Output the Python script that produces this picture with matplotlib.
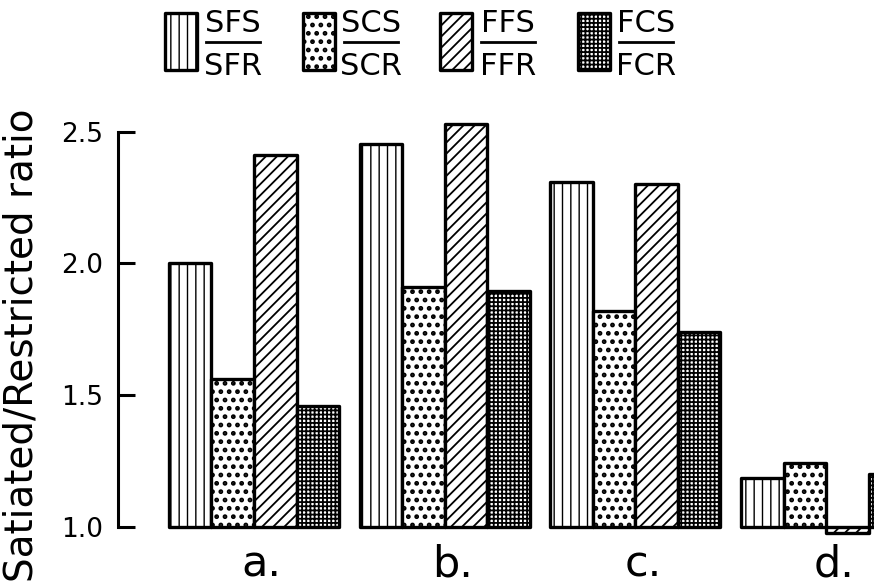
import matplotlib
matplotlib.use('Agg')
import matplotlib.pyplot as plt
from matplotlib.patches import Rectangle
from matplotlib.lines import Line2D

# data
groups = ['a.', 'b.', 'c.', 'd.']
sfs = [2.00, 2.455, 2.31, 1.185]
scs = [1.56, 1.91, 1.82, 1.24]
ffs = [2.41, 2.53, 2.30, 0.977]
fcs = [1.46, 1.895, 1.74, 1.20]
series_top = ['SFS', 'SCS', 'FFS', 'FCS']
series_bottom = ['SFR', 'SCR', 'FFR', 'FCR']
yticks = [1.0, 1.5, 2.0, 2.5]

hatches = ['||', '..', '///', '++++']
hatch_lw = [1.0, 2.2, 1.3, 1.3]

W, H = 874, 588
fig = plt.figure(figsize=(W / 100, H / 100), dpi=100)
ax = fig.add_axes([118 / W, 1 - 553 / H, 1 - 118 / W, (553 - 105.4) / H])

# bars, four per group, sitting on 1.0
bw = 0.223
for k, vals in enumerate([sfs, scs, ffs, fcs]):
    pos = [i + (k - 1.5) * bw for i in range(len(groups))]
    ax.bar(pos, [v - 1.0 for v in vals], bottom=1.0, width=bw,
           facecolor='white', edgecolor='black', linewidth=2.4,
           hatch=hatches[k], hatch_linewidth=hatch_lw[k], joinstyle='round')

ax.set_xlim(-0.713, 3.251)
ax.set_ylim(0.9, 2.6)

for s in ['top', 'right', 'bottom']:
    ax.spines[s].set_visible(False)
ax.spines['left'].set_bounds(1.0, 2.5)
ax.spines['left'].set_linewidth(2.2)
ax.set_yticks(yticks)
ax.set_yticklabels(['%.1f' % t for t in yticks])
ax.tick_params(axis='y', direction='in', length=12, width=2.2, labelsize=19, pad=11)
ax.set_xticks([])

# group letters under the bars
for i, g in enumerate(groups):
    ax.text(i + 0.04, 0.81, g, ha='center', va='baseline', fontsize=31)

fig.text(22 / W, 1 - 345 / H, 'Satiated/Restricted ratio', rotation=90,
         ha='center', va='center', fontsize=28)

# legend drawn by hand: hatched box + fraction label
def fx(px):
    return px / W

def fy(py):
    return 1 - py / H

for k in range(4):
    x0 = 165 + k * 137.7
    fig.add_artist(Rectangle((fx(x0), fy(70)), 32 / W, 57 / H, transform=fig.transFigure,
                             facecolor='white', edgecolor='black', lw=2.4,
                             hatch=hatches[k], hatch_linewidth=hatch_lw[k], joinstyle='round'))
    cx = x0 + 68
    fig.text(fx(cx), fy(32), series_top[k], ha='center', va='baseline', fontsize=22)
    fig.add_artist(Line2D([fx(cx - 27), fx(cx + 27)], [fy(42), fy(42)],
                          transform=fig.transFigure, color='black', lw=2))
    fig.text(fx(cx), fy(75), series_bottom[k], ha='center', va='baseline', fontsize=22)

fig.savefig('out.png', dpi=100)
